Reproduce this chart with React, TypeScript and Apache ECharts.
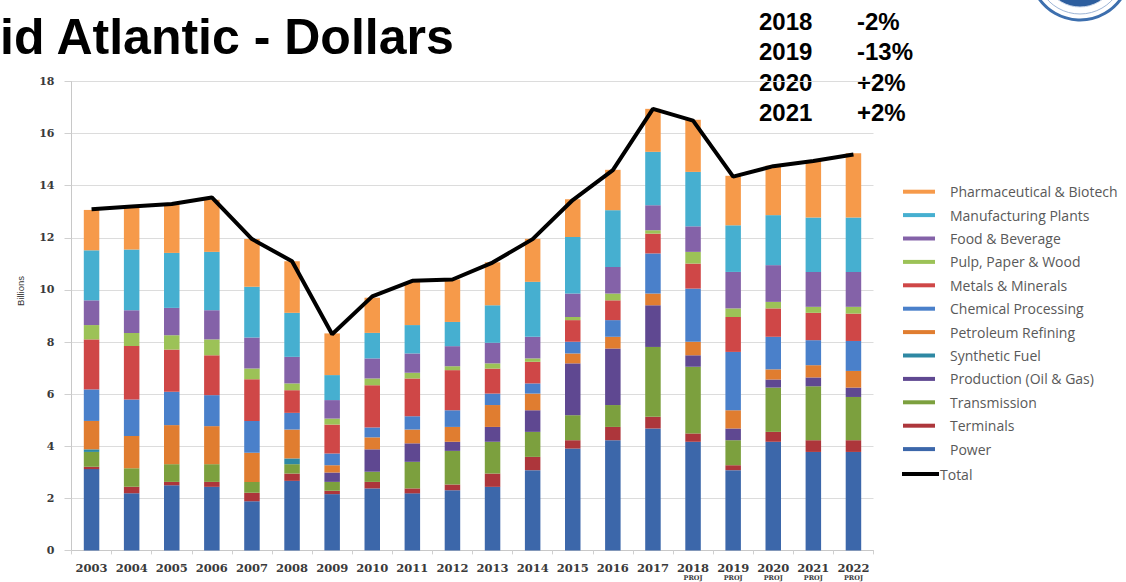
import React, { useEffect, useRef } from 'react';
import * as echarts from 'echarts';

const years = ['2003','2004','2005','2006','2007','2008','2009','2010','2011','2012','2013','2014','2015','2016','2017','2018','2019','2020','2021','2022'];
const projYears = ['2018','2019','2020','2021','2022'];

const power =         [3.12, 2.19, 2.5, 2.44, 1.89, 2.67, 2.16, 2.38, 2.19, 2.31, 2.44, 3.08, 3.91, 4.23, 4.68, 4.17, 3.08, 4.17, 3.78, 3.78];
const terminals =     [0.09, 0.25, 0.13, 0.19, 0.32, 0.28, 0.13, 0.25, 0.19, 0.22, 0.51, 0.51, 0.32, 0.51, 0.45, 0.32, 0.19, 0.38, 0.45, 0.45];
const transmission =  [0.57, 0.71, 0.68, 0.68, 0.42, 0.36, 0.34, 0.39, 1.02, 1.29, 1.22, 0.96, 0.96, 0.84, 2.68, 2.56, 0.96, 1.7, 2.07, 1.66];
const production =    [0, 0, 0, 0, 0, 0, 0.36, 0.86, 0.71, 0.35, 0.57, 0.83, 1.99, 2.17, 1.6, 0.44, 0.45, 0.31, 0.34, 0.36];
const syntheticFuel = [0.1, 0, 0, 0, 0, 0.22, 0, 0, 0, 0, 0, 0, 0, 0, 0, 0, 0, 0, 0, 0];
const petroleum =     [1.09, 1.24, 1.5, 1.46, 1.12, 1.11, 0.28, 0.46, 0.53, 0.57, 0.84, 0.64, 0.38, 0.45, 0.45, 0.52, 0.7, 0.39, 0.47, 0.64];
const chemical =      [1.21, 1.4, 1.28, 1.19, 1.22, 0.64, 0.45, 0.38, 0.51, 0.64, 0.44, 0.39, 0.45, 0.64, 1.54, 2.04, 2.24, 1.25, 0.96, 1.15];
const metals =        [1.92, 2.06, 1.62, 1.53, 1.6, 0.87, 1.11, 1.62, 1.45, 1.54, 0.96, 0.83, 0.83, 0.76, 0.76, 0.96, 1.34, 1.09, 1.05, 1.05];
const pulp =          [0.55, 0.5, 0.55, 0.61, 0.41, 0.26, 0.23, 0.26, 0.22, 0.15, 0.2, 0.13, 0.12, 0.26, 0.13, 0.45, 0.33, 0.25, 0.23, 0.26];
const food =          [0.95, 0.87, 1.05, 1.12, 1.19, 1.02, 0.71, 0.77, 0.74, 0.77, 0.79, 0.83, 0.9, 1.02, 0.96, 0.98, 1.4, 1.41, 1.34, 1.34];
const manufacturing = [1.92, 2.33, 2.11, 2.24, 1.95, 1.69, 0.96, 0.98, 1.09, 0.93, 1.44, 2.11, 2.17, 2.18, 2.05, 2.09, 1.79, 1.92, 2.09, 2.09];
const pharma =        [1.55, 1.6, 1.85, 2.0, 1.83, 1.98, 1.6, 1.35, 1.65, 1.63, 1.65, 1.65, 1.45, 1.55, 1.65, 2.0, 1.9, 1.9, 2.2, 2.47];
const totals =        [13.1, 13.2, 13.3, 13.55, 11.95, 11.1, 8.3, 9.75, 10.35, 10.4, 11.05, 11.95, 13.45, 14.6, 16.95, 16.5, 14.35, 14.75, 14.95, 15.2];

const changeYears = ['2018', '2019', '2020', '2021'];
const changeValues = ['-2%', '-13%', '+2%', '+2%'];

const seriesNames = ['Power', 'Terminals', 'Transmission', 'Production (Oil & Gas)', 'Synthetic Fuel', 'Petroleum Refining', 'Chemical Processing', 'Metals & Minerals', 'Pulp, Paper & Wood', 'Food & Beverage', 'Manufacturing Plants', 'Pharmaceutical & Biotech'];
const seriesData = [power, terminals, transmission, production, syntheticFuel, petroleum, chemical, metals, pulp, food, manufacturing, pharma];
const seriesColors = ['#3c67aa', '#ad363b', '#7ca03e', '#5f4891', '#2e88a3', '#e07d30', '#4a80ca', '#cf4747', '#9cc257', '#8462a8', '#46afd0', '#f69a4a'];

export default function App() {
  const ref = useRef<HTMLDivElement>(null);
  useEffect(() => {
    const chart = echarts.init(ref.current as HTMLDivElement, null, { renderer: 'svg' });
    const barSeries = seriesNames.map((name, i) => ({
      name,
      type: 'bar',
      stack: 'all',
      barWidth: 15.5,
      data: seriesData[i],
      itemStyle: { color: seriesColors[i] },
    }));
    const changeTexts: any[] = [];
    changeYears.forEach((y, i) => {
      const cy = 21 + i * 30.5;
      changeTexts.push({ type: 'text', x: 759, y: cy, style: { text: y, font: 'bold 24px "Liberation Sans"', fill: '#000', verticalAlign: 'middle' } });
      changeTexts.push({ type: 'text', x: 857, y: cy, style: { text: changeValues[i], font: 'bold 24px "Liberation Sans"', fill: '#000', verticalAlign: 'middle' } });
    });
    const option: any = {
      animation: false,
      backgroundColor: '#ffffff',
      grid: { left: 71.5, right: 252.5, top: 81.5, bottom: 31.6, containLabel: false, outerBoundsMode: 'none' },
      legend: [
        {
          orient: 'vertical',
          left: 898,
          top: 179.7,
          itemWidth: 32,
          itemHeight: 4,
          itemGap: 9.4,
          icon: 'rect',
          data: seriesNames.slice().reverse(),
          textStyle: { fontFamily: '"Open Sans"', fontSize: 14, color: '#595959', lineHeight: 14, padding: [0, 0, 0, 10] },
          selectedMode: false,
        },
        {
          orient: 'vertical',
          left: 897,
          top: 462,
          itemWidth: 37,
          itemHeight: 4,
          icon: 'rect',
          data: ['Total'],
          textStyle: { fontFamily: '"Open Sans"', fontSize: 14, color: '#595959', lineHeight: 14, padding: [0, 0, 0, -4] },
          selectedMode: false,
        },
      ],
      xAxis: {
        type: 'category',
        data: years,
        axisLine: { show: true, lineStyle: { color: '#c8c8c8', width: 1 } },
        axisTick: { show: true, length: 4, lineStyle: { color: '#d0d0d0' } },
        axisLabel: {
          margin: 11.5,
          interval: 0,
          formatter: (v: string) => (projYears.includes(v) ? '{y|' + v + '}\n{p|PROJ}' : '{y|' + v + '}'),
          rich: {
            y: { fontFamily: '"DejaVu Serif"', fontWeight: 'bold', fontSize: 11.5, lineHeight: 13, color: '#3a3a3a' },
            p: { fontFamily: '"DejaVu Serif"', fontWeight: 'bold', fontSize: 6.5, lineHeight: 6, color: '#3a3a3a' },
          },
        },
      },
      yAxis: {
        type: 'value',
        min: 0,
        max: 18,
        interval: 2,
        axisLine: { show: true, lineStyle: { color: '#c8c8c8', width: 1 } },
        axisTick: { show: true, length: 7, lineStyle: { color: '#d0d0d0' } },
        splitLine: { show: true, lineStyle: { color: '#dcdcdc', width: 1 } },
        axisLabel: { margin: 17, fontFamily: '"DejaVu Serif"', fontWeight: 'bold', fontSize: 11, color: '#3a3a3a' },
      },
      series: [
        ...barSeries,
        {
          name: 'Total',
          type: 'line',
          data: totals,
          showSymbol: false,
          symbol: 'none',
          z: 10,
          lineStyle: { color: '#000', width: 4 },
          itemStyle: { color: '#000' },
        },
      ],
      graphic: [
        { type: 'text', x: 0, y: 36.7, style: { text: 'id Atlantic - Dollars', font: 'bold 50px "Liberation Sans"', fill: '#000', verticalAlign: 'middle' } },
        ...changeTexts,
        { type: 'text', x: 20, y: 291, rotation: Math.PI / 2, style: { text: 'Billions', font: '9.5px "Liberation Sans"', fill: '#333', align: 'center', verticalAlign: 'middle' } },
        { type: 'circle', shape: { cx: 1080, cy: -30, r: 50 }, style: { fill: '#ffffff', stroke: '#3d6fae', lineWidth: 3 } },
        { type: 'circle', shape: { cx: 1080, cy: -30, r: 44 }, style: { fill: 'none', stroke: '#9fb6d6', lineWidth: 1 } },
        { type: 'circle', shape: { cx: 1080, cy: -30, r: 37 }, style: { fill: '#2d5e9e', stroke: '#c9d6ea', lineWidth: 1 } },
      ],
    };
    chart.setOption(option);
    return () => chart.dispose();
  }, []);
  return <div ref={ref} style={{ position: 'absolute', left: 0, top: 0, width: 1126, height: 582, background: '#fff' }} />;
}
